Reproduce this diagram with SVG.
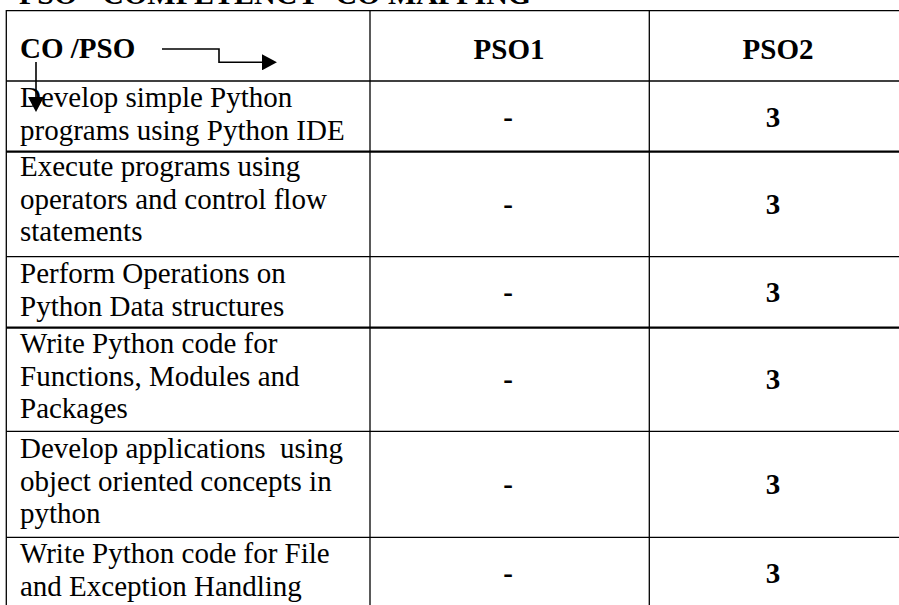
<svg xmlns="http://www.w3.org/2000/svg" width="899" height="605" viewBox="0 0 899 605">
<style>
.t{font-family:"Liberation Serif","Times New Roman",serif;font-size:29px;fill:#000}
.b{font-weight:bold}
.c{text-anchor:middle}
.g{stroke:#000;stroke-width:1.3;fill:none}
.k{stroke-width:2.2}
.a{stroke:#000;stroke-width:1.6;fill:none}
</style>
<defs>
<marker id="ah" markerUnits="userSpaceOnUse" markerWidth="16" markerHeight="16" viewBox="0 0 14 15" refX="0" refY="7.5" orient="auto">
<path d="M0,0 L14,7.5 L0,15 Z" fill="#000"/>
</marker>
</defs>
<rect width="899" height="605" fill="#fff"/>
<text class="t b" x="19" y="3.5" style="font-size:30px" xml:space="preserve">PSO - COMPETENCY -CO MAPPING</text>
<g id="grid">
<line class="g" x1="6.3" y1="10.7" x2="899" y2="10.7"/>
<line class="g" x1="6.3" y1="81" x2="899" y2="81"/>
<line class="g k" x1="6.3" y1="151.7" x2="899" y2="151.7"/>
<line class="g" x1="6.3" y1="256.7" x2="899" y2="256.7"/>
<line class="g k" x1="6.3" y1="327.7" x2="899" y2="327.7"/>
<line class="g" x1="6.3" y1="431.3" x2="899" y2="431.3"/>
<line class="g" x1="6.3" y1="537.3" x2="899" y2="537.3"/>
<line class="g" x1="6.3" y1="10" x2="6.3" y2="605"/>
<line class="g" x1="370" y1="10" x2="370" y2="605"/>
<line class="g" x1="649.3" y1="10" x2="649.3" y2="605"/>
</g>
<g id="header">
<text class="t b" x="20" y="58">CO /PSO</text>
<text class="t b c" x="509" y="59">PSO1</text>
<text class="t b c" x="778" y="59">PSO2</text>
</g>
<g id="row1">
<text class="t" x="20" y="107"><tspan x="20">Develop simple Python</tspan><tspan x="20" dy="32.5">programs using Python IDE</tspan></text>
<text class="t b c" x="508" y="127">-</text>
<text class="t b c" x="773" y="127">3</text>
</g>
<g id="row2">
<text class="t" x="20" y="176"><tspan x="20">Execute programs using</tspan><tspan x="20" dy="32.5">operators and control flow</tspan><tspan x="20" dy="32.5">statements</tspan></text>
<text class="t b c" x="508" y="214">-</text>
<text class="t b c" x="773" y="214">3</text>
</g>
<g id="row3">
<text class="t" x="20" y="283"><tspan x="20">Perform Operations on</tspan><tspan x="20" dy="32.5">Python Data structures</tspan></text>
<text class="t b c" x="508" y="302">-</text>
<text class="t b c" x="773" y="302">3</text>
</g>
<g id="row4">
<text class="t" x="20" y="353"><tspan x="20">Write Python code for</tspan><tspan x="20" dy="32.5">Functions, Modules and</tspan><tspan x="20" dy="32.5">Packages</tspan></text>
<text class="t b c" x="508" y="389">-</text>
<text class="t b c" x="773" y="389">3</text>
</g>
<g id="row5">
<text class="t" x="20" y="458" xml:space="preserve"><tspan x="20">Develop applications  using</tspan><tspan x="20" dy="32.5">object oriented concepts in</tspan><tspan x="20" dy="32.5">python</tspan></text>
<text class="t b c" x="508" y="494">-</text>
<text class="t b c" x="773" y="494">3</text>
</g>
<g id="row6">
<text class="t" x="20" y="563"><tspan x="20">Write Python code for File</tspan><tspan x="20" dy="32.5">and Exception Handling</tspan></text>
<text class="t b c" x="508" y="583">-</text>
<text class="t b c" x="773" y="583">3</text>
</g>
<g id="connectors">
<path class="a" d="M162,49 H219 V62.3 H262" marker-end="url(#ah)"/>
<path class="a" d="M36,62 V97" marker-end="url(#ah)"/>
</g>
</svg>
